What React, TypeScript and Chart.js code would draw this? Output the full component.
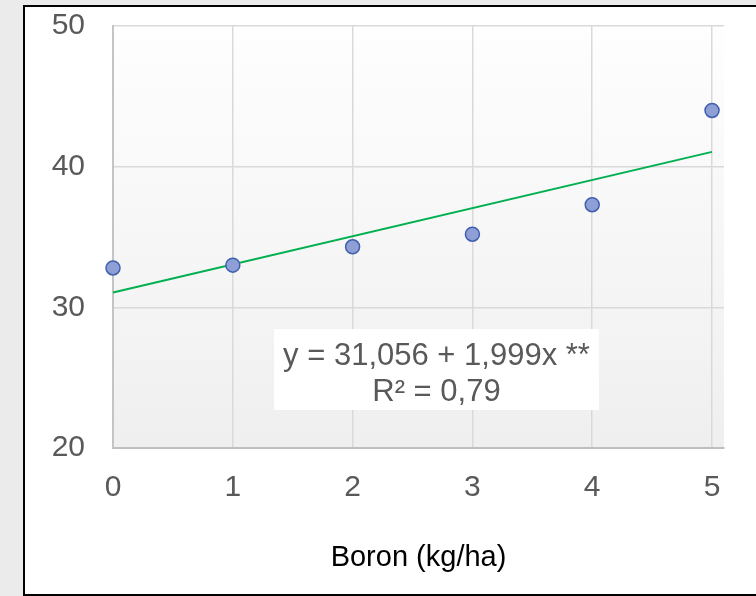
import React, { useEffect, useRef } from "react";
import { Chart, registerables } from "chart.js";

Chart.register(...registerables);

// ---- data ----
const X_VALUES = [0, 1, 2, 3, 4, 5];
const Y_VALUES = [32.8, 33.0, 34.3, 35.2, 37.3, 44.0];
const TREND_INTERCEPT = 31.056;
const TREND_SLOPE = 1.999;
const TREND_X = [0, 5];
const X_TICKS = [0, 1, 2, 3, 4, 5];
const Y_TICKS = [20, 30, 40, 50];
const EQ_LINES = ["y = 31,056 + 1,999x **", "R\u00B2 = 0,79"];
const X_TITLE = "Boron (kg/ha)";

const FONT = "'Liberation Sans', Arial, sans-serif";

const plotBgPlugin = {
  id: "plotBg",
  beforeDraw(chart: any) {
    const { ctx, chartArea } = chart;
    const { left, top, right, bottom } = chartArea;
    ctx.save();
    const g = ctx.createLinearGradient(0, top, 0, bottom);
    g.addColorStop(0, "#fefefe");
    g.addColorStop(1, "#efefef");
    ctx.fillStyle = g;
    ctx.fillRect(left, top, right - left, bottom - top);
    ctx.restore();
  },
};

const equationPlugin = {
  id: "equationBox",
  afterDatasetsDraw(chart: any) {
    const { ctx } = chart;
    const xs = chart.scales.x;
    const ys = chart.scales.y;
    const cx = xs.getPixelForValue(2.7);
    const base1 = ys.getPixelForValue(25.9);
    const lineGap = 36;
    ctx.save();
    ctx.font = `31px ${FONT}`;
    const w = Math.max(...EQ_LINES.map((l) => ctx.measureText(l).width));
    const padX = 9;
    const boxLeft = cx - w / 2 - padX;
    const boxTop = base1 - 36;
    const boxH = 81;
    ctx.fillStyle = "#ffffff";
    ctx.fillRect(boxLeft, boxTop, w + padX * 2, boxH);
    ctx.fillStyle = "#595959";
    ctx.textAlign = "center";
    ctx.textBaseline = "alphabetic";
    EQ_LINES.forEach((l, i) => ctx.fillText(l, cx, base1 + i * lineGap));
    ctx.restore();
  },
};

export default function App() {
  const ref = useRef<HTMLCanvasElement | null>(null);

  useEffect(() => {
    const canvas = ref.current;
    if (!canvas) return;
    const scatterData = X_VALUES.map((x, i) => ({ x, y: Y_VALUES[i] }));
    const trendData = TREND_X.map((x) => ({ x, y: TREND_INTERCEPT + TREND_SLOPE * x }));
    const chart = new Chart(canvas, {
      type: "scatter",
      data: {
        datasets: [
          {
            type: "scatter",
            data: scatterData,
            backgroundColor: "#8e9fd5",
            borderColor: "#3f5fae",
            borderWidth: 1.5,
            pointRadius: 7,
            clip: false,
            order: 0,
          } as any,
          {
            type: "line",
            data: trendData,
            borderColor: "#00b050",
            borderWidth: 2,
            pointRadius: 0,
            fill: false,
            clip: false,
            order: 1,
          } as any,
        ],
      },
      options: {
        animation: false,
        responsive: false,
        devicePixelRatio: 1,
        layout: { padding: { left: 0, top: 26, right: 32, bottom: 0 } },
        plugins: {
          legend: { display: false },
          tooltip: { enabled: false },
        },
        scales: {
          x: {
            type: "linear",
            min: 0,
            max: 5.1,
            afterBuildTicks: (s: any) => {
              s.ticks = X_TICKS.map((v) => ({ value: v }));
            },
            afterFit: (s: any) => {
              s.height = 148;
              s.paddingLeft = 0;
              s.paddingRight = 0;
            },
            grid: { color: "#d9d9d9", lineWidth: 1.5, drawTicks: false },
            border: { color: "#bfbfbf", width: 2 },
            ticks: {
              color: "#595959",
              font: { family: FONT, size: 30 },
              padding: 22,
              maxRotation: 0,
            },
            title: {
              display: true,
              text: X_TITLE,
              color: "#000000",
              font: { family: FONT, size: 29 },
              padding: { top: 0, bottom: 21 },
            },
          },
          y: {
            type: "linear",
            min: 20,
            max: 50,
            afterBuildTicks: (s: any) => {
              s.ticks = Y_TICKS.map((v) => ({ value: v }));
            },
            afterFit: (s: any) => {
              s.width = 113;
              s.paddingTop = 0;
              s.paddingBottom = 0;
            },
            grid: { color: "#d9d9d9", lineWidth: 1.5, drawTicks: false },
            border: { color: "#c4c4c4", width: 2 },
            ticks: {
              color: "#595959",
              font: { family: FONT, size: 30 },
              padding: 28,
            },
          },
        },
      },
      plugins: [plotBgPlugin, equationPlugin],
    });
    return () => chart.destroy();
  }, []);

  return (
    <div
      style={{
        position: "fixed",
        left: 0,
        top: 0,
        width: 756,
        height: 596,
        background: "#ebebeb",
        overflow: "hidden",
      }}
    >
      <div
        style={{
          position: "absolute",
          left: 23,
          top: 5,
          width: 800,
          height: 587,
          border: "2px solid #000",
          background: "#ffffff",
        }}
      />
      <canvas
        ref={ref}
        width={756}
        height={596}
        style={{ position: "absolute", left: 0, top: 0, width: 756, height: 596 }}
      />
    </div>
  );
}
